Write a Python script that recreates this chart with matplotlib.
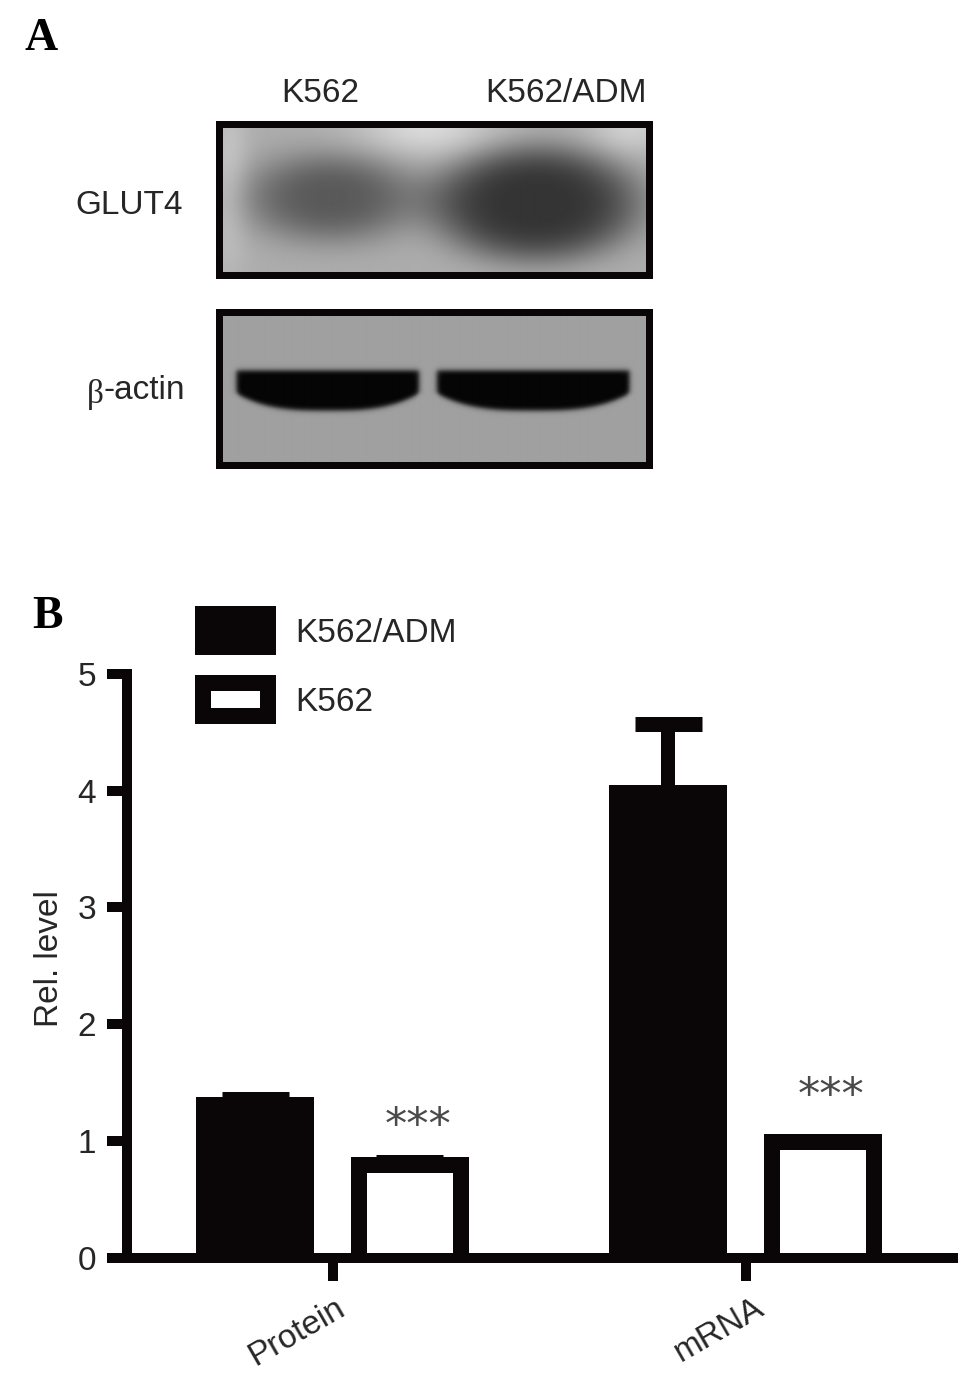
import numpy as np
import matplotlib
matplotlib.use('Agg')
import matplotlib.pyplot as plt
from matplotlib.patches import Patch
from matplotlib.transforms import ScaledTranslation

W, H = 971, 1377
plt.rcParams['font.family'] = ['Liberation Sans', 'DejaVu Sans']

# bar chart values
groups = ['Protein', 'mRNA']
adm_values = [1.375, 4.05]
adm_err_top = [1.42, 4.64]
k562_values = [0.86, 1.06]
k562_err_top = [0.88, 1.06]
star_heights = [0.94, 1.195]
y_ticks = [0, 1, 2, 3, 4, 5]
series_names = ['K562/ADM', 'K562']
lane_names = ['K562', 'K562/ADM']
blot_names = ['GLUT4', '-actin']

BLACK = '#0a0506'
TEXT = '#262626'


def px_axes(fig, left, top, right, bottom):
    return fig.add_axes([left / W, 1 - bottom / H, (right - left) / W, (bottom - top) / H])


def pt(px):
    return px * 0.72


def blob(xx, yy, cx, cy, rx, ry, power=2.0):
    return np.exp(-(((xx - cx) / rx) ** 2 + ((yy - cy) / ry) ** 2) ** (power / 2))


def glut4_image():
    xx, yy = np.meshgrid(np.arange(219, 649), np.arange(124, 275))
    img = 172 + 0.0 * xx
    img = img + 45 * blob(xx, yy, 425, 128, 70, 30) + 35 * blob(xx, yy, 630, 128, 45, 28)
    img = img + 25 * blob(xx, yy, 228, 180, 20, 90)
    img = img - 82 * blob(xx, yy, 330, 198, 88, 45, 3.0)
    img = img - 120 * blob(xx, yy, 535, 204, 105, 58, 4.0)
    return np.clip(img, 40, 235)


def actin_image():
    xx, yy = np.meshgrid(np.arange(219, 649), np.arange(312, 465))
    img = 160 + 0.0 * xx
    for cx, half in ((327, 91), (532, 96)):
        # bands are flat on top and rounded below
        u = (xx - cx) / half
        bot = 394 + 17 * (1 - np.abs(u) ** 3).clip(0)
        mask = (0.5 + 0.5 * np.tanh((yy - 371) / 3)) * (0.5 + 0.5 * np.tanh((bot - yy) / 3))
        mask = mask * (0.5 + 0.5 * np.tanh((1 - np.abs(u)) * half / 3))
        img = img - 158 * mask
    return np.clip(img, 5, 200)


fig = plt.figure(figsize=(W / 100, H / 100), dpi=100)

# panel A blots
for image, box in ((glut4_image(), (218.5, 123.5, 648.5, 274.5)),
                   (actin_image(), (218.5, 311.5, 648.5, 464.5))):
    blot = px_axes(fig, *box)
    blot.imshow(image, cmap='gray', vmin=0, vmax=255, aspect='auto', interpolation='bilinear')
    blot.set_xticks([])
    blot.set_yticks([])
    for s in blot.spines.values():
        s.set_linewidth(pt(7))
        s.set_color(BLACK)

# panel B bars
ax = px_axes(fig, 127, 674, 953, 1257.5)
ax.patch.set_alpha(0)
ax.set_xlim(-0.499, 1.501)
ax.set_ylim(0, 5)
unit_x = 413.0
unit_y = 583.5 / 5
x = np.arange(len(groups))
bar_w = 118 / unit_x
edge = 16
cap_h = 15

for i, name in enumerate(groups):
    for off, val, top, cap_half in ((-0.189, adm_values[i], adm_err_top[i], 33.5),
                                    (0.186, k562_values[i], k562_err_top[i], 33.5)):
        xc = x[i] + off
        ax.vlines(xc, val - 0.05, top - 0.03, color=BLACK, lw=pt(14), capstyle='butt', zorder=2)
        ax.hlines(top - cap_h / 2 / unit_y, xc - cap_half / unit_x, xc + cap_half / unit_x,
                  color=BLACK, lw=pt(cap_h), capstyle='butt', zorder=2)
        ax.bar(xc, val, bar_w, color=BLACK, zorder=3)
    # white inside of the open bar
    ax.bar(x[i] + 0.186, k562_values[i] - edge / unit_y, bar_w - 2 * edge / unit_x,
           color='white', zorder=4)
    ax.text(x[i] + 0.205, star_heights[i], '***', ha='center', va='bottom', fontsize=32,
            color='#4a4a4a', family='DejaVu Sans')

for s in ('top', 'right'):
    ax.spines[s].set_visible(False)
for s in ('left', 'bottom'):
    ax.spines[s].set_linewidth(pt(10))
    ax.spines[s].set_color(BLACK)
    ax.spines[s].set_zorder(5)

ax.set_yticks(y_ticks)
ax.set_yticklabels([str(t) for t in y_ticks], fontsize=24, color=TEXT)
ax.tick_params(axis='y', length=pt(20), width=pt(10), color=BLACK, pad=pt(11))
ax.set_xticks(x)
ax.set_xticklabels(groups, fontsize=24, color=TEXT, rotation=30, ha='right',
                   va='top', rotation_mode='anchor')
ax.tick_params(axis='x', length=pt(22.5), width=pt(10), color=BLACK, pad=pt(12))
# the two rotated labels do not sit the same way under their ticks
for label, dx in zip(ax.get_xticklabels(), (2, 8)):
    label.set_transform(label.get_transform() + ScaledTranslation(pt(dx) / 72, 0, fig.dpi_scale_trans))
ax.set_ylabel('Rel. level', fontsize=24, color=TEXT, labelpad=pt(12), y=0.513)

handles = [Patch(facecolor=BLACK, edgecolor=BLACK, linewidth=pt(edge)),
           Patch(facecolor='white', edgecolor=BLACK, linewidth=pt(edge))]
fig.legend(handles, series_names, loc='upper left', bbox_to_anchor=(203 / W, 1 - 614 / H),
           frameon=False, fontsize=24, handlelength=1.95, handleheight=1.15,
           handletextpad=0.82, labelspacing=1.02, borderpad=0, borderaxespad=0,
           labelcolor=TEXT)


def put(px, py, s, **kw):
    fig.text(px / W, 1 - py / H, s, **kw)


put(320, 93, lane_names[0], fontsize=24, color=TEXT, ha='center', va='center')
put(566, 93, lane_names[1], fontsize=24, color=TEXT, ha='center', va='center')
put(183, 205, blot_names[0], fontsize=24, color=TEXT, ha='right', va='center')
put(185, 391, blot_names[1], fontsize=24, color=TEXT, ha='right', va='center')
put(87, 394, '\u03b2', fontsize=24, color=TEXT, ha='left', va='center', family='Liberation Serif')
put(24, 50, 'A', fontsize=33, fontweight='bold', color='black', family='Liberation Serif')
put(32, 628, 'B', fontsize=33, fontweight='bold', color='black', family='Liberation Serif')

fig.savefig('out.png', dpi=100)
